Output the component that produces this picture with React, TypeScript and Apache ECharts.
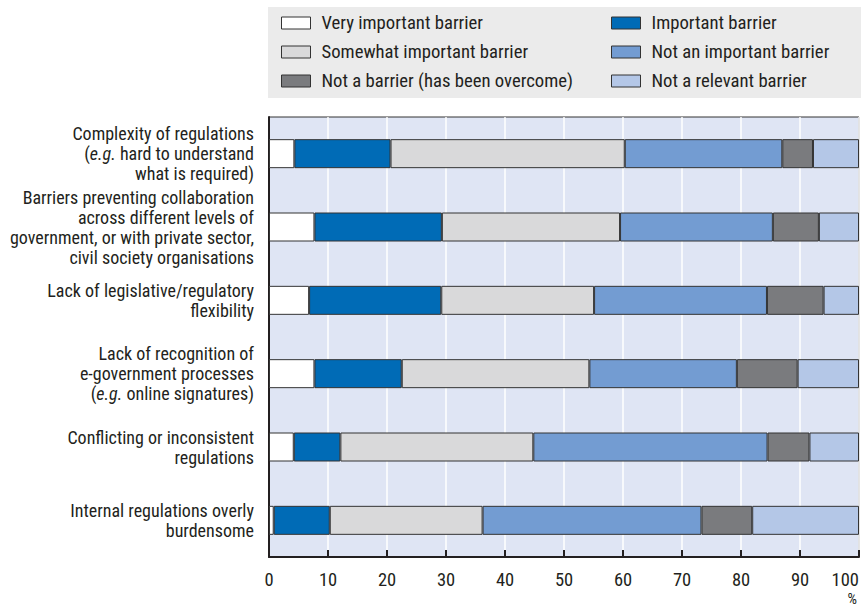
import React, { useEffect, useRef } from "react";
import * as echarts from "echarts";

const categories = [
  "Complexity of regulations\n({i|e.g.} hard to understand\nwhat is required)",
  "Barriers preventing collaboration\nacross different levels of\ngovernment, or with private sector,\ncivil society organisations",
  "Lack of legislative/regulatory\nflexibility",
  "Lack of recognition of\ne-government processes\n({i|e.g.} online signatures)",
  "Conflicting or inconsistent\nregulations",
  "Internal regulations overly\nburdensome",
];

const veryImportant = [4.3, 7.7, 6.8, 7.7, 4.2, 0.8];
const important = [16.3, 21.6, 22.4, 14.8, 7.9, 9.5];
const somewhatImportant = [39.7, 30.2, 25.9, 31.8, 32.7, 25.9];
const notImportant = [26.7, 25.9, 29.3, 25.0, 39.7, 37.1];
const notABarrier = [5.2, 7.8, 9.6, 10.3, 7.1, 8.6];
const notRelevant = [7.8, 6.8, 6.0, 10.4, 8.4, 18.1];

const xTicks = [0, 10, 20, 30, 40, 50, 60, 70, 80, 90, 100];

const seriesNames = [
  "Very important barrier",
  "Important barrier",
  "Somewhat important barrier",
  "Not an important barrier",
  "Not a barrier (has been overcome)",
  "Not a relevant barrier",
];
const seriesColors = ["#ffffff", "#006bb6", "#d9d9da", "#739cd2", "#7a7b7e", "#b4c7e7"];
const seriesData = [veryImportant, important, somewhatImportant, notImportant, notABarrier, notRelevant];

const FONT = "'Liberation Sans Narrow', 'Arial Narrow', 'Roboto Condensed', 'DejaVu Sans Condensed', sans-serif";
const TEXT = "#231f20";

export default function App() {
  const ref = useRef<HTMLDivElement>(null);
  useEffect(() => {
    if (!ref.current) return;
    const chart = echarts.init(ref.current, null, { renderer: "svg" });
    const legendText = {
      fontFamily: FONT,
      fontSize: 18.7,
      color: TEXT,
      lineHeight: 20,
      padding: [0, 0, 0, 6],
    };
    chart.setOption({
      animation: false,
      backgroundColor: "#ffffff",
      textStyle: { fontFamily: FONT },
      graphic: [
        {
          type: "rect",
          z: -10,
          shape: { x: 268, y: 7, width: 593, height: 91 },
          style: { fill: "#ebebeb" },
        },
        {
          type: "text",
          x: 857,
          y: 599,
          style: {
            text: "%",
            fontFamily: FONT,
            fontSize: 15,
            fill: TEXT,
            align: "right",
            verticalAlign: "middle",
          },
        },
      ],
      legend: [
        {
          orient: "vertical",
          left: 281,
          top: 13,
          padding: 0,
          itemWidth: 29,
          itemHeight: 12,
          itemGap: 9,
          selectedMode: false,
          icon: "rect",
          itemStyle: { borderColor: "#333333", borderWidth: 1 },
          textStyle: legendText,
          data: [seriesNames[0], seriesNames[2], seriesNames[4]],
        },
        {
          orient: "vertical",
          left: 611,
          top: 13,
          padding: 0,
          itemWidth: 29,
          itemHeight: 12,
          itemGap: 9,
          selectedMode: false,
          icon: "rect",
          itemStyle: { borderColor: "#333333", borderWidth: 1 },
          textStyle: legendText,
          data: [seriesNames[1], seriesNames[3], seriesNames[5]],
        },
      ],
      grid: {
        left: 269,
        top: 117,
        width: 590,
        height: 440,
        show: true,
        backgroundColor: "#dfe5f4",
        borderColor: "#333333",
        borderWidth: 1,
        containLabel: false,
        outerBoundsMode: "none",
      },
      xAxis: {
        type: "value",
        min: 0,
        max: 100,
        interval: 10,
        axisLine: { show: true, lineStyle: { color: "#231f20", width: 2 } },
        axisTick: { show: true, inside: true, length: 7, lineStyle: { color: "#231f20", width: 2 } },
        splitLine: { show: true, lineStyle: { color: "#ffffff", width: 1.5 } },
        axisLabel: {
          fontFamily: FONT,
          fontSize: 18.5,
          color: TEXT,
          margin: 13,
          alignMaxLabel: "right",
          formatter: (v: number) => (xTicks.includes(v) ? String(v) : ""),
        },
      },
      yAxis: {
        type: "category",
        inverse: true,
        data: categories,
        axisLine: { show: true, lineStyle: { color: "#231f20", width: 2 } },
        axisTick: { show: false },
        splitLine: { show: false },
        axisLabel: {
          fontFamily: FONT,
          fontSize: 18,
          lineHeight: 20,
          color: TEXT,
          margin: 15,
          align: "right",
          rich: {
            i: { fontFamily: FONT, fontSize: 18, lineHeight: 20, color: TEXT, fontStyle: "italic" },
          },
        },
      },
      series: seriesNames.map((name, k) => ({
        name,
        type: "bar",
        stack: "total",
        barWidth: 29,
        data: seriesData[k],
        itemStyle: { color: seriesColors[k], borderColor: "#333333", borderWidth: 1 },
        emphasis: { disabled: true },
      })),
    });
    return () => chart.dispose();
  }, []);
  return (
    <div
      ref={ref}
      style={{ position: "absolute", left: 0, top: 0, width: 861, height: 607 }}
    />
  );
}
